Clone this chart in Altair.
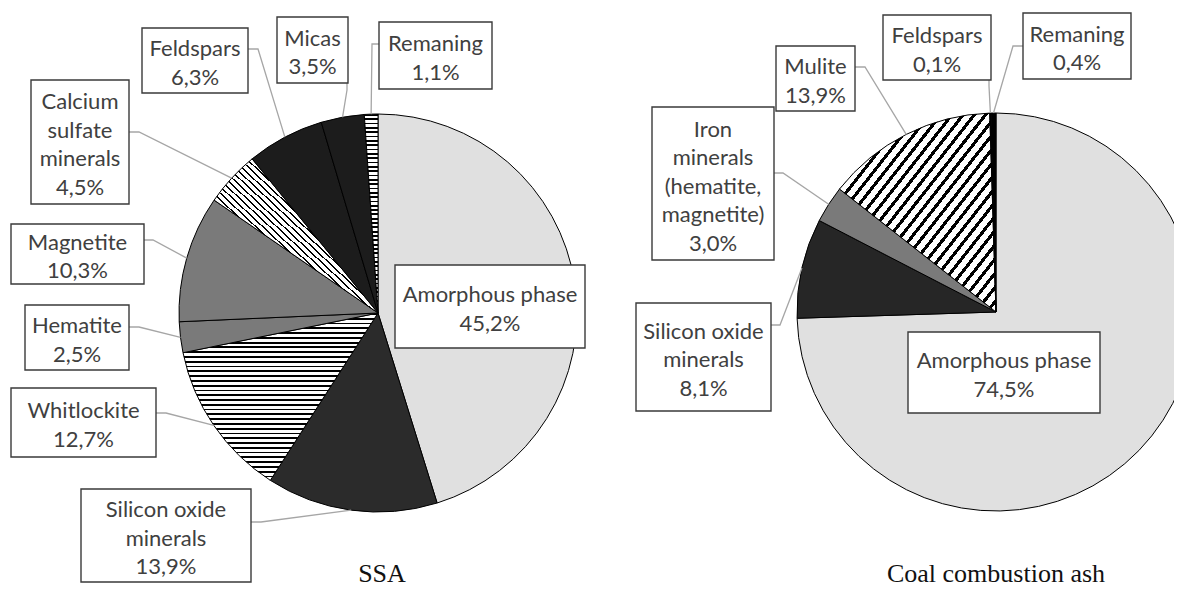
import math
import altair as alt
import pandas as pd

# ---------------- data ----------------
ssa_names = ["Amorphous phase", "Silicon oxide minerals", "Whitlockite", "Hematite", "Magnetite",
             "Calcium sulfate minerals", "Feldspars", "Micas", "Remaning"]
ssa_values = [45.2, 13.9, 12.7, 2.5, 10.3, 4.5, 6.3, 3.5, 1.1]
ssa_label_names = ["Amorphous phase", "Silicon oxide\nminerals", "Whitlockite", "Hematite", "Magnetite",
                   "Calcium\nsulfate\nminerals", "Feldspars", "Micas", "Remaning"]

coal_names = ["Amorphous phase", "Silicon oxide minerals", "Iron minerals (hematite, magnetite)",
              "Mulite", "Feldspars", "Remaning"]
coal_values = [74.5, 8.1, 3.0, 13.9, 0.1, 0.4]
coal_label_names = ["Amorphous phase", "Silicon oxide\nminerals", "Iron\nminerals\n(hematite,\nmagnetite)",
                    "Mulite", "Feldspars", "Remaning"]

pie_titles = ["SSA", "Coal combustion ash"]

# ---------------- layout (page pixels) ----------------
W, H = 1166, 580
OFF = 8
R = 199
LH = 28.5
TEXT_SHIFT = 3
centers = [(378, 313), (996, 312)]
title_pos = [(382, 582), (996, 582)]

ssa_boxes = [(395, 265, 585, 348), (81, 489, 251, 582), (11, 388, 156, 457), (25, 305, 129, 370),
             (11, 224, 144, 284), (31, 80, 129, 204), (142, 28, 248, 93), (277, 17, 348, 83),
             (379, 22, 492, 89)]
ssa_leaders = [None, [(251, 522), (261, 522)], [(156, 413), (166, 413)], [(129, 327), (139, 327)],
               [(144, 240), (153, 240)], [(129, 132), (139, 132)], [(248, 49), (258, 49)],
               [(347, 83), (347, 90)], [(379, 44), (372, 44)]]
coal_boxes = [(908, 332, 1100, 413), (636, 303, 771, 411), (652, 107, 774, 260), (776, 46, 855, 111),
              (883, 15, 991, 80), (1023, 13, 1131, 79)]
coal_leaders = [None, [(771, 325), (780, 325)], [(774, 173), (783, 173)], [(855, 67), (865, 67)],
                [(989, 80), (989, 86)], [(1023, 46), (1013, 46)]]


# ---------------- fills ----------------
def sector_size(cx, cy, r, a0, a1):
    pts = [(cx, cy)]
    angs = [a0, a1] + [q for q in (0, 25, 50, 75, 100) if a0 < q < a1]
    for p in angs:
        t = 2 * math.pi * p / 100
        pts.append((cx + r * math.sin(t), cy - r * math.cos(t)))
    xs = [p[0] for p in pts]
    ys = [p[1] for p in pts]
    return max(xs) - min(xs), max(ys) - min(ys)


def stripes(n, frac, x1, y1, x2, y2, ink="#000000", paper="#ffffff"):
    stops = []
    n = max(int(n), 1)
    for i in range(n):
        a = round(i / n, 6)
        b = round((i + frac) / n, 6)
        c = round((i + 1) / n, 6)
        stops += [{"offset": a, "color": ink}, {"offset": b, "color": ink},
                  {"offset": b, "color": paper}, {"offset": c, "color": paper}]
    return {"gradient": "linear", "x1": x1, "y1": y1, "x2": x2, "y2": y2, "stops": stops}


def fill_for(kind, cx, cy, a0, a1):
    w, h = sector_size(cx, cy, R, a0, a1)
    if kind == "hstripe":
        return stripes(round(h / 4.8), 0.38, 0, 0, 0, 1)
    if kind == "hstripe_fine":
        return stripes(round(h / 4.3), 0.4, 0, 0, 0, 1)
    if kind == "fwd":      # "/" lines
        return stripes(round(2 * w / 11), 0.36, 0, 0, 1, 1)
    if kind == "back":     # "\" lines, thin (wave-like)
        return stripes(round(2 * w / 7), 0.28, 0, 1, 1, 0)
    return kind


ssa_kinds = ["#e0e0e0", "#2b2b2b", "hstripe", "#7a7a7a", "#7a7a7a", "back", "#1c1c1c", "#1c1c1c",
             "hstripe_fine"]
coal_kinds = ["#e0e0e0", "#262626", "#7a7a7a", "fwd", "#000000", "#000000"]

# ---------------- tables ----------------
pies = [
    (ssa_names, ssa_values, ssa_label_names, ssa_boxes, ssa_leaders, ssa_kinds),
    (coal_names, coal_values, coal_label_names, coal_boxes, coal_leaders, coal_kinds),
]

slice_rows, box_rows, line_rows = [], [], []
for p, (names, values, lnames, boxes, leaders, kinds) in enumerate(pies):
    cx, cy = centers[p]
    acc = 0.0
    for i, (nm, v) in enumerate(zip(names, values)):
        t0, t1 = acc, acc + v
        acc = t1
        slice_rows.append(dict(pie=p, idx=i, name=nm, value=v, t0=t0, t1=t1, cx=cx, cy=cy,
                               kind=kinds[i]))
        x0, y0, x1, y1 = boxes[i]
        label = lnames[i] + "\n" + f"{v:.1f}".replace(".", ",") + "%"
        nlines = label.count("\n") + 1
        box_rows.append(dict(pie=p, idx=i, x0=x0, y0=y0, x1=x1, y1=y1,
                             tx=(x0 + x1) / 2,
                             ty=(y0 + y1) / 2 - (nlines - 1) * LH / 2 + TEXT_SHIFT,
                             label=label))
        if leaders[i] is not None:
            mid = 2 * math.pi * (t0 + v / 2) / 100
            ex, ey = cx + R * math.sin(mid), cy - R * math.cos(mid)
            pts = leaders[i] + [(ex, ey)]
            for k, (px, py) in enumerate(pts):
                line_rows.append(dict(lid=f"{p}-{i}", k=k, px=px, py=py))

slices = pd.DataFrame(slice_rows)
boxes_df = pd.DataFrame(box_rows)
lines_df = pd.DataFrame(line_rows)
titles_df = pd.DataFrame({"title": pie_titles, "x": [t[0] for t in title_pos],
                          "y": [t[1] for t in title_pos]})

xs = alt.Scale(domain=[OFF, OFF + W], nice=False, zero=False)
ys = alt.Scale(domain=[OFF + H, OFF], nice=False, zero=False)
ts = alt.Scale(domain=[0, 100], range=[0, 2 * math.pi])

layers = []
for _, row in slices.iterrows():
    fill = fill_for(row["kind"], row["cx"], row["cy"], row["t0"], row["t1"])
    sub = slices[(slices.pie == row["pie"]) & (slices.idx == row["idx"])][["t0", "t1", "cx", "cy", "name"]]
    layers.append(
        alt.Chart(sub).mark_arc(radius=R, fill=fill, stroke="#000000", strokeWidth=1).encode(
            theta=alt.Theta("t0:Q", scale=ts),
            theta2="t1:Q",
            x=alt.X("cx:Q", scale=xs, axis=None),
            y=alt.Y("cy:Q", scale=ys, axis=None),
        )
    )

layers.append(
    alt.Chart(lines_df).mark_line(color="#a6a6a6", strokeWidth=1.3).encode(
        x=alt.X("px:Q", scale=xs, axis=None),
        y=alt.Y("py:Q", scale=ys, axis=None),
        detail="lid:N",
        order="k:O",
    )
)

layers.append(
    alt.Chart(boxes_df).mark_rect(fill="white", stroke="#3a3a3a", strokeWidth=1.4).encode(
        x=alt.X("x0:Q", scale=xs, axis=None), x2="x1:Q",
        y=alt.Y("y0:Q", scale=ys, axis=None), y2="y1:Q",
    )
)

layers.append(
    alt.Chart(boxes_df).mark_text(font="Lato", fontSize=22, color="#404040", lineBreak="\n",
                                  lineHeight=LH, align="center", baseline="middle").encode(
        x=alt.X("tx:Q", scale=xs, axis=None),
        y=alt.Y("ty:Q", scale=ys, axis=None),
        text="label:N",
    )
)

layers.append(
    alt.Chart(titles_df).mark_text(font="Liberation Serif", fontSize=26, color="#111111",
                                   align="center", baseline="alphabetic").encode(
        x=alt.X("x:Q", scale=xs, axis=None),
        y=alt.Y("y:Q", scale=ys, axis=None),
        text="title:N",
    )
)

chart = alt.layer(*layers).properties(
    width=W, height=H, padding=0, autosize=alt.AutoSizeParams(type="none")
).configure_view(stroke=None)

chart.save("out.html", embed_options={"renderer": "svg", "actions": False})
